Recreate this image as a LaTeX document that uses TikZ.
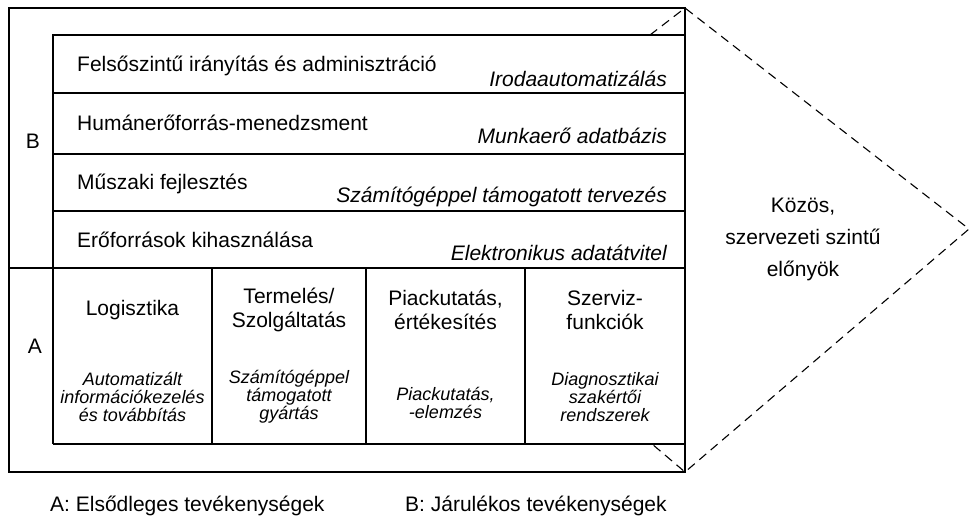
\documentclass[tikz,border=0pt]{standalone}
\usepackage{fontspec}
\setmainfont{Liberation Sans}
\begin{document}
\begin{tikzpicture}[x=1pt,y=-1pt,
  frame/.style={line width=2pt},
  rule/.style={line width=1.6pt},
  guide/.style={dash pattern=on 9pt off 6pt, line width=1.1pt},
  txt/.style={inner sep=0pt, font=\fontsize{21}{23}\selectfont},
  itxt/.style={inner sep=0pt, font=\fontsize{21}{23}\selectfont\itshape},
  head/.style={inner sep=0pt, align=center, font=\fontsize{21}{24}\selectfont},
  tool/.style={inner sep=0pt, align=center, font=\fontsize{18}{18}\selectfont\itshape},
]
\useasboundingbox (0,0) rectangle (971,520);

% corner points of the frame and of the benefit wedge
\coordinate (tl) at (9,8);
\coordinate (tr) at (685,8);
\coordinate (br) at (685,472);
\coordinate (bl) at (9,472);
\coordinate (apex) at (969,229);
\coordinate (itop) at (650,35);
\coordinate (ibot) at (652,444);

% outer frame
\draw[frame] (tl) rectangle (br);

% support activities (B): stacked rows
\draw[rule] (53,444) -- (53,35) -- (685,35);
\draw[rule] (53,93) -- (685,93);
\draw[rule] (53,154) -- (685,154);
\draw[rule] (53,211) -- (685,211);
\draw[rule] (9,268) -- (685,268);

% primary activities (A): columns
\draw[rule] (53,444) -- (685,444);
\draw[rule] (212,268) -- (212,444);
\draw[rule] (366,268) -- (366,444);
\draw[rule] (525,268) -- (525,444);

% wedge of common benefits
\draw[guide] (itop) -- (tr) -- (apex) -- (br) -- (ibot);

% section letters
\node[txt, anchor=base] (lb) at (33,148) {B};
\node[txt, anchor=base] (la) at (35,353) {A};

% support activity rows
\node[txt, anchor=base west] (r1) at (77,71) {Felsőszintű irányítás és adminisztráció};
\node[itxt, anchor=base east] (r1t) at (667,86) {Irodaautomatizálás};
\node[txt, anchor=base west] (r2) at (77,130) {Humánerőforrás-menedzsment};
\node[itxt, anchor=base east] (r2t) at (667,143) {Munkaerő adatbázis};
\node[txt, anchor=base west] (r3) at (77,189) {Műszaki fejlesztés};
\node[itxt, anchor=base east] (r3t) at (667,202) {Számítógéppel támogatott tervezés};
\node[txt, anchor=base west] (r4) at (77,247) {Erőforrások kihasználása};
\node[itxt, anchor=base east] (r4t) at (667,260) {Elektronikus adatátvitel};

% primary activity columns
\node[head] (c1) at (132.5,310) {Logisztika};
\node[head] (c2) at (289,310) {Termelés/\\Szolgáltatás};
\node[head] (c3) at (445.5,310) {Piackutatás,\\értékesítés};
\node[head] (c4) at (605,310) {Szerviz-\\funkciók};
\node[tool] (c1t) at (132.5,397) {Automatizált\\információkezelés\\és továbbítás};
\node[tool] (c2t) at (289,397) {Számítógéppel\\támogatott\\gyártás};
\node[tool] (c3t) at (445.5,403) {Piackutatás,\\-elemzés};
\node[tool] (c4t) at (605,397) {Diagnosztikai\\szakértői\\rendszerek};

% benefits
\node[head, font=\fontsize{21}{32}\selectfont] (ben) at (803,239) {Közös,\\szervezeti szintű\\előnyök};

% legend
\node[txt, anchor=base west] (ka) at (50,511) {A: Elsődleges tevékenységek};
\node[txt, anchor=base west] (kb) at (405,511) {B: Járulékos tevékenységek};
\end{tikzpicture}
\end{document}
